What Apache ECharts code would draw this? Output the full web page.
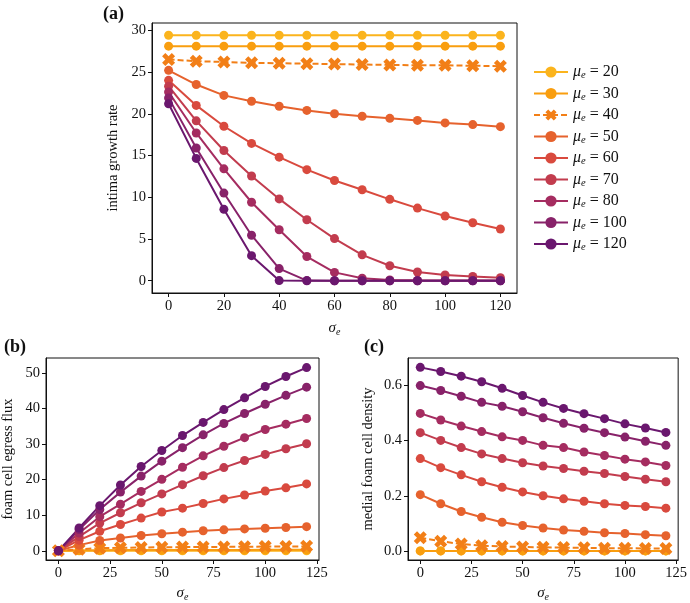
<!DOCTYPE html>
<html><head><meta charset="utf-8">
<script src="https://cdn.jsdelivr.net/npm/echarts@6/dist/echarts.min.js"></script>
<style>html,body{margin:0;padding:0;background:#fff}#c{width:690px;height:603px}</style>
</head><body><div id="c"></div>
<script>
const sigma = [0,10,20,30,40,50,60,70,80,90,100,110,120];
const muLabels = ['20','30','40','50','60','70','80','100','120'];
const colors = ['#fbb41d','#f99e0f','#f27f17','#e6622d','#d94a3e','#c23c4e','#a52c60','#882269','#6a176e'];
const xTicksA = [0,20,40,60,80,100,120];
const yTicksA = [0,5,10,15,20,25,30];
const xTicksBC = [0,25,50,75,100,125];
const yTicksB = [0,10,20,30,40,50];
const yTicksC = [0,0.2,0.4,0.6];

// (a) intima growth rate
const growth20  = [29.4,29.4,29.4,29.4,29.4,29.4,29.4,29.4,29.4,29.4,29.4,29.4,29.4];
const growth30  = [28.1,28.1,28.1,28.1,28.1,28.1,28.1,28.1,28.1,28.1,28.1,28.1,28.1];
const growth40  = [26.5,26.3,26.2,26.1,26.05,26.0,25.95,25.9,25.85,25.8,25.8,25.75,25.7];
const growth50  = [25.2,23.5,22.2,21.5,20.9,20.4,20.0,19.7,19.45,19.2,18.9,18.7,18.45];
const growth60  = [24.0,21.0,18.5,16.45,14.8,13.3,12.0,10.9,9.75,8.7,7.75,6.95,6.2];
const growth70  = [23.3,19.15,15.6,12.55,9.8,7.3,5.05,3.1,1.8,1.05,0.7,0.5,0.35];
const growth80  = [22.6,17.7,13.4,9.4,6.1,2.9,1.0,0.3,0.1,0.05,0.03,0.02,0.02];
const growth100 = [21.9,15.9,10.5,5.45,1.45,0.02,0,0,0,0,0,0,0];
const growth120 = [21.2,14.65,8.55,3.0,0.02,0,0,0,0,0,0,0,0];

// (b) foam cell egress flux
const flux20  = [0,0,0,0,0,0,0,0,0,0,0,0,0];
const flux30  = [0,0.1,0.15,0.2,0.2,0.2,0.25,0.25,0.25,0.25,0.3,0.3,0.3];
const flux40  = [0,0.45,0.75,0.85,0.95,1.0,1.05,1.1,1.1,1.15,1.2,1.2,1.25];
const flux50  = [0,1.6,2.9,3.6,4.3,4.8,5.25,5.65,5.9,6.15,6.35,6.55,6.8];
const flux60  = [0,3.0,5.5,7.4,9.2,10.9,12.0,13.3,14.6,15.7,16.8,17.7,18.8];
const flux70  = [0,4.0,7.8,10.7,13.5,16.0,18.6,21.1,23.4,25.4,27.1,28.7,30.1];
const flux80  = [0,5.0,9.6,13.1,16.7,20.1,23.5,26.7,29.4,31.8,34.1,35.6,37.2];
const flux100 = [0,6.0,11.6,16.5,21.0,25.2,29.0,32.6,35.8,38.6,41.2,43.7,46.0];
const flux120 = [0,6.4,12.7,18.5,23.7,28.2,32.4,36.1,39.7,43.0,46.2,49.0,51.5];

// (c) medial foam cell density
const dens20  = [0,0,0,0,0,0,0,0,0,0,0,0,0];
const dens30  = [0,0,0,0,0,0,0,0,0,0,0,0,0];
const dens40  = [0.048,0.035,0.025,0.019,0.016,0.014,0.013,0.012,0.011,0.010,0.010,0.009,0.009];
const dens50  = [0.204,0.171,0.143,0.122,0.104,0.092,0.083,0.076,0.071,0.066,0.063,0.059,0.055];
const dens60  = [0.335,0.302,0.276,0.251,0.231,0.214,0.200,0.189,0.180,0.171,0.165,0.161,0.155];
const dens70  = [0.429,0.401,0.375,0.352,0.335,0.320,0.308,0.299,0.289,0.281,0.270,0.260,0.251];
const dens80  = [0.499,0.475,0.453,0.433,0.414,0.401,0.383,0.375,0.359,0.346,0.333,0.323,0.310];
const dens100 = [0.600,0.582,0.561,0.539,0.525,0.505,0.483,0.463,0.445,0.429,0.413,0.398,0.383];
const dens120 = [0.666,0.651,0.634,0.614,0.590,0.564,0.539,0.517,0.498,0.480,0.461,0.446,0.430];

const growthAll = [growth20,growth30,growth40,growth50,growth60,growth70,growth80,growth100,growth120];
const fluxAll = [flux20,flux30,flux40,flux50,flux60,flux70,flux80,flux100,flux120];
const densAll = [dens20,dens30,dens40,dens50,dens60,dens70,dens80,dens100,dens120];

const FONT = 'Liberation Serif';
const INK = '#111';
const XPATH = 'path://M0,3.5 L3.5,0 L7,3.5 L10.5,0 L14,3.5 L10.5,7 L14,10.5 L10.5,14 L7,10.5 L3.5,14 L0,10.5 L3.5,7 Z';

const grids = [
  {left:152, top:23, width:365, height:270},
  {left:45, top:358, width:274, height:203},
  {left:408, top:358, width:272, height:203}
].map(g => Object.assign(g, {show:true, borderColor:INK, borderWidth:1, backgroundColor:'transparent', containLabel:false}));

const sigmaName = '{i|σ}{s|e}';
const nameRich = {
  i:{fontFamily:FONT, fontStyle:'italic', fontSize:15, color:INK},
  s:{fontFamily:FONT, fontStyle:'italic', fontSize:10, color:INK, padding:[8,0,0,0]}
};

function xAxis(idx, ticks, gap){
  return {
    type:'value', gridIndex:idx, min:-6, max:126,
    axisLine:{show:true, onZero:false, lineStyle:{color:INK, width:1}},
    axisTick:{show:true, length:4, customValues:ticks, lineStyle:{color:INK}},
    axisLabel:{customValues:ticks, fontFamily:FONT, fontSize:14.5, color:INK, margin:6},
    splitLine:{show:false},
    name:sigmaName, nameLocation:'middle', nameGap:gap,
    nameTextStyle:{rich:nameRich}
  };
}
function yAxis(idx, min, max, ticks, name, gap, fmt){
  return {
    type:'value', gridIndex:idx, min:min, max:max,
    axisLine:{show:true, onZero:false, lineStyle:{color:INK, width:1}},
    axisTick:{show:true, length:4, customValues:ticks, lineStyle:{color:INK}},
    axisLabel:{customValues:ticks, fontFamily:FONT, fontSize:14.5, color:INK, margin:6,
      formatter: fmt || (v => String(v))},
    splitLine:{show:false},
    name:name, nameLocation:'middle', nameGap:gap, nameRotate:90,
    nameTextStyle:{fontFamily:FONT, fontSize:14.5, color:INK}
  };
}

const series = [];
[growthAll, fluxAll, densAll].forEach((set, gi) => {
  set.forEach((vals, k) => {
    const isX = muLabels[k] === '40';
    series.push({
      type:'line', name:muLabels[k], xAxisIndex:gi, yAxisIndex:gi,
      data: sigma.map((s, j) => [s, vals[j]]),
      symbol: isX ? XPATH : 'circle',
      symbolSize: isX ? 13 : 9,
      showSymbol:true,
      lineStyle:{color:colors[k], width:2, type: isX ? [6,3] : 'solid'},
      itemStyle:{color:colors[k], borderWidth:0},
      emphasis:{disabled:true},
      animation:false,
      clip:false
    });
  });
});

const chart = echarts.init(document.getElementById('c'), null, {renderer:'canvas'});
chart.setOption({
  backgroundColor:'#fff',
  animation:false,
  grid: grids,
  xAxis: [xAxis(0, xTicksA, 26), xAxis(1, xTicksBC, 24), xAxis(2, xTicksBC, 24)],
  yAxis: [
    yAxis(0, -1.47, 30.87, yTicksA, 'intima growth rate', 30),
    yAxis(1, -2.58, 54.2, yTicksB, 'foam cell egress flux', 30),
    yAxis(2, -0.033, 0.70, yTicksC, 'medial foam cell density', 32, v => v.toFixed(1))
  ],
  legend: {
    show:true, orient:'vertical', left:528, top:59, itemGap:4.5,
    itemWidth:34, itemHeight:14,
    data: muLabels,
    selectedMode:false,
    formatter: n => '{m|μ}{s|e}{t| = ' + n + '}',
    textStyle:{
      fontFamily:FONT, fontSize:16, color:INK,
      rich:{
        m:{fontFamily:FONT, fontStyle:'italic', fontSize:16, color:INK},
        s:{fontFamily:FONT, fontStyle:'italic', fontSize:10.5, color:INK, padding:[7,0,0,0]},
        t:{fontFamily:FONT, fontSize:16, color:INK}
      }
    }
  },
  graphic: [
    {type:'text', left:103, top:5, style:{text:'(a)', font:'bold 18px "Liberation Serif"', fill:INK}},
    {type:'text', left:4, top:338, style:{text:'(b)', font:'bold 18px "Liberation Serif"', fill:INK}},
    {type:'text', left:364, top:338, style:{text:'(c)', font:'bold 18px "Liberation Serif"', fill:INK}}
  ],
  series: series
});
</script></body></html>
